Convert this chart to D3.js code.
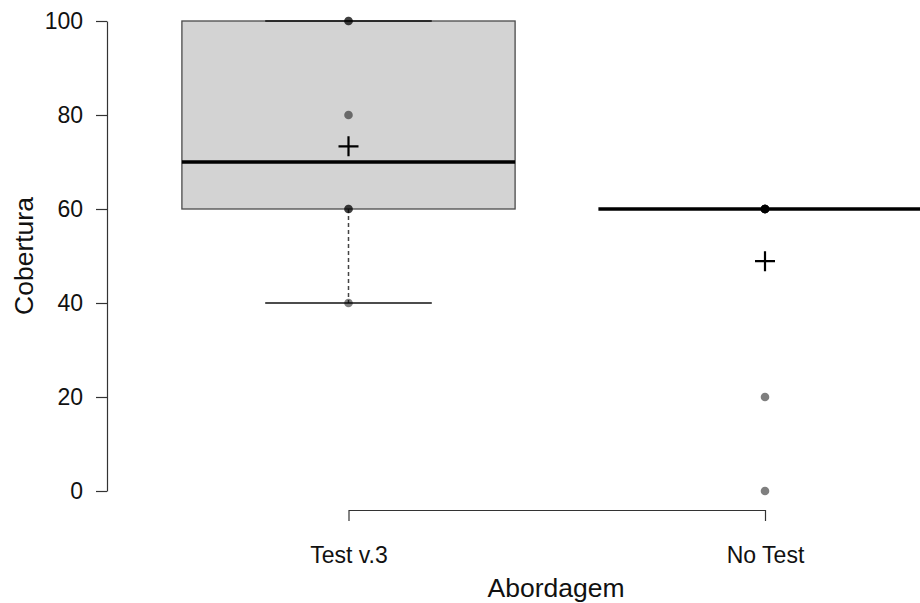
<!DOCTYPE html>
<html>

<head>
    <meta charset=utf-8 />
    <script src="https://cdn.jsdelivr.net/npm/d3@7"></script>
    <title>Cobertura por abordagem</title>
    <style>
        html,
        body {
            margin: 0;
            padding: 0;
            background: #fff;
        }

        svg {
            display: block;
            font-family: "Liberation Sans", Arial, Helvetica, sans-serif;
        }

        .axis text {
            font-size: 23px;
            fill: #111;
        }

        .axis path,
        .axis line {
            stroke: #333;
            stroke-width: 1.2px;
        }
    </style>
</head>

<body>
    <div id="svg-canvas"></div>
    <script>
        // raw observations per approach
        var categories = ['Test v.3', 'No Test'];
        var testV3 = [40, 60, 60, 80, 100, 100];
        var noTest = [0, 20, 60, 60, 60, 60, 60, 60, 60];
        var yTicks = [0, 20, 40, 60, 80, 100];
        var xTitle = 'Abordagem';
        var yTitle = 'Cobertura';

        var series = [testV3, noTest];

        // same hinges as R's fivenum()
        function fivenum(values) {
            var v = values.slice().sort(d3.ascending);
            var n = v.length;
            var n4 = Math.floor((n + 3) / 2) / 2;
            var d = [1, n4, (n + 1) / 2, n + 1 - n4, n];
            return d.map(k => 0.5 * (v[Math.floor(k) - 1] + v[Math.ceil(k) - 1]));
        }

        function boxStats(values) {
            var f = fivenum(values);
            var iqr = f[3] - f[1];
            var inside = values.filter(v => v >= f[1] - 1.5 * iqr && v <= f[3] + 1.5 * iqr);
            return {
                q1: f[1], med: f[2], q3: f[3],
                lo: d3.min(inside), hi: d3.max(inside),
                mean: d3.mean(values)
            };
        }

        var width = 920, height = 603;
        var svg = d3.select('#svg-canvas').append('svg')
            .attr('width', width)
            .attr('height', height);

        var y = d3.scaleLinear().domain([0, 100]).range([491, 21]);
        var x = d3.scalePoint().domain(categories).range([348.5, 765]);
        var step = x(categories[1]) - x(categories[0]);
        var boxHalf = 0.4 * step;
        var capHalf = 0.2 * step;

        // axes
        svg.append('g')
            .attr('class', 'axis')
            .attr('transform', 'translate(107,0)')
            .call(d3.axisLeft(y).tickValues(yTicks).tickSize(11).tickSizeOuter(0).tickPadding(13));

        svg.append('g')
            .attr('class', 'axis')
            .attr('transform', 'translate(0,510)')
            .call(d3.axisBottom(x).tickSize(11).tickSizeOuter(0).tickPadding(26));

        svg.append('text')
            .attr('x', 556)
            .attr('y', 597)
            .attr('text-anchor', 'middle')
            .style('font-size', '26.5px')
            .attr('fill', '#111')
            .text(xTitle);

        svg.append('text')
            .attr('transform', 'translate(33,256) rotate(-90)')
            .attr('text-anchor', 'middle')
            .style('font-size', '26.5px')
            .attr('fill', '#111')
            .text(yTitle);

        var groups = svg.selectAll('g.box')
            .data(series.map((vals, i) => ({ cat: categories[i], vals: vals, s: boxStats(vals) })))
            .enter().append('g')
            .attr('class', 'box');

        // whiskers
        groups.append('line')
            .attr('x1', d => x(d.cat)).attr('x2', d => x(d.cat))
            .attr('y1', d => y(d.s.q1)).attr('y2', d => y(d.s.lo))
            .attr('stroke', '#444').attr('stroke-width', 1.5)
            .attr('stroke-dasharray', '4,3');
        groups.append('line')
            .attr('x1', d => x(d.cat)).attr('x2', d => x(d.cat))
            .attr('y1', d => y(d.s.q3)).attr('y2', d => y(d.s.hi))
            .attr('stroke', '#444').attr('stroke-width', 1.5)
            .attr('stroke-dasharray', '4,3');

        // box
        groups.append('rect')
            .attr('x', d => x(d.cat) - boxHalf)
            .attr('width', 2 * boxHalf)
            .attr('y', d => y(d.s.q3))
            .attr('height', d => y(d.s.q1) - y(d.s.q3))
            .attr('fill', '#d3d3d3')
            .attr('stroke', '#4a4a4a')
            .attr('stroke-width', 1.3);

        // staples
        ['lo', 'hi'].forEach(function (k) {
            groups.append('line')
                .attr('x1', d => x(d.cat) - capHalf).attr('x2', d => x(d.cat) + capHalf)
                .attr('y1', d => y(d.s[k])).attr('y2', d => y(d.s[k]))
                .attr('stroke', '#111').attr('stroke-width', 1.3);
        });

        // median
        groups.append('line')
            .attr('x1', d => x(d.cat) - boxHalf).attr('x2', d => x(d.cat) + boxHalf)
            .attr('y1', d => y(d.s.med)).attr('y2', d => y(d.s.med))
            .attr('stroke', '#000').attr('stroke-width', 3.5);

        // raw points, semi transparent so stacked values look darker
        groups.selectAll('circle')
            .data(d => d.vals.map(v => ({ cat: d.cat, v: v })))
            .enter().append('circle')
            .attr('cx', d => x(d.cat))
            .attr('cy', d => y(d.v))
            .attr('r', 4.3)
            .attr('fill', '#000')
            .attr('fill-opacity', 0.5);

        // mean marker
        groups.append('path')
            .attr('transform', d => 'translate(' + x(d.cat) + ',' + y(d.s.mean) + ')')
            .attr('d', 'M-10,0H10M0,-10V10')
            .attr('stroke', '#000')
            .attr('stroke-width', 2.2)
            .attr('fill', 'none');
    </script>
</body>

</html>
